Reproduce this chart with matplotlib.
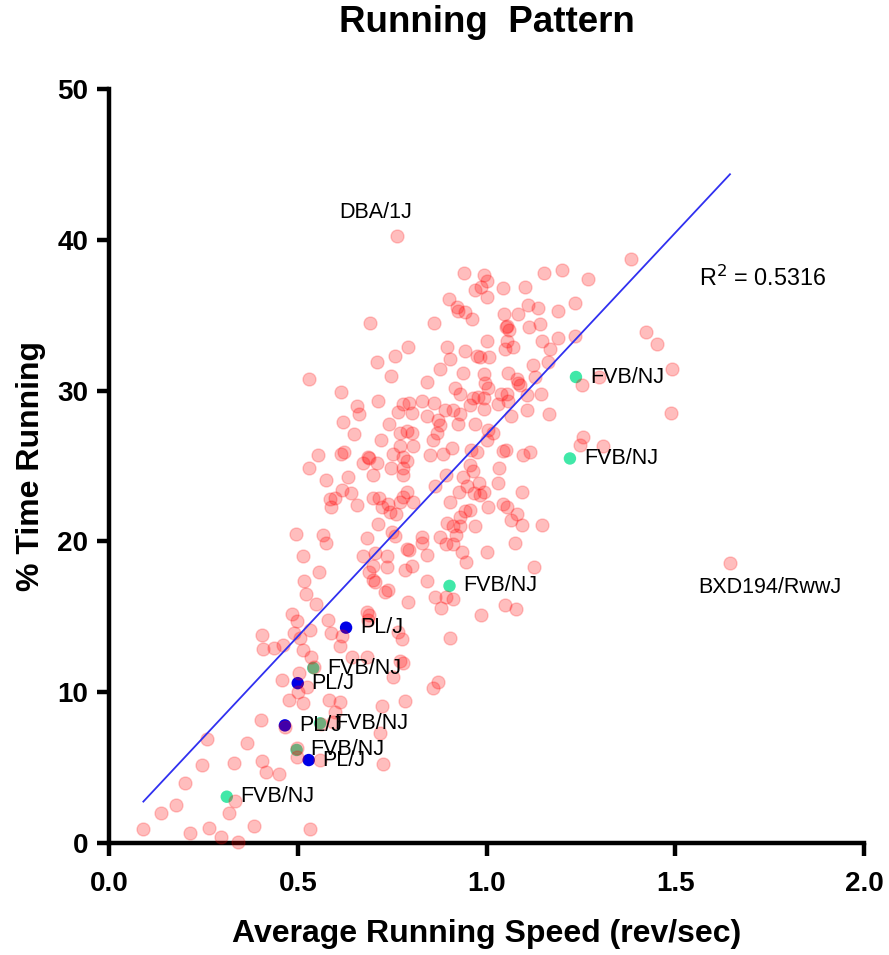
import matplotlib
matplotlib.use("Agg")
import matplotlib.pyplot as plt
import numpy as np

plt.rcParams['font.family'] = ['Liberation Sans', 'DejaVu Sans']

# ---- data ----
speed_all = [0.091, 0.138, 0.177, 0.201, 0.215, 0.247, 0.259, 0.265, 0.298, 0.317, 0.335, 0.343, 0.332, 0.365, 0.385,
             0.402, 0.406, 0.415, 0.450, 0.404, 0.409, 0.437, 0.462, 0.457, 0.466, 0.478, 0.486, 0.497, 0.491, 0.506,
             0.517, 0.522, 0.515, 0.532, 0.534, 0.544, 0.504, 0.501, 0.514, 0.524, 0.497, 0.499, 0.559, 0.532, 0.557,
             0.581, 0.588, 0.612, 0.618, 0.584, 0.612, 0.599, 0.562, 0.594, 0.643, 0.683, 0.722, 0.718, 0.725, 0.683,
             0.689, 0.700, 0.731, 0.736, 0.753, 0.549, 0.495, 0.566, 0.575, 0.515, 0.683, 0.713, 0.749, 0.758, 0.789,
             0.796, 0.830, 0.842, 0.736, 0.705, 0.674, 0.700, 0.784, 0.802, 0.705, 0.740, 0.793, 0.842, 0.687, 0.766,
             0.771, 0.688, 0.531, 0.615, 0.656, 0.662, 0.712, 0.619, 0.649, 0.742, 0.720, 0.766, 0.780, 0.795, 0.802,
             0.771, 0.789, 0.802, 0.771, 0.804, 0.554, 0.615, 0.622, 0.531, 0.575, 0.634, 0.672, 0.690, 0.709, 0.700,
             0.751, 0.780, 0.790, 0.747, 0.778, 0.780, 0.616, 0.641, 0.599, 0.585, 0.587, 0.658, 0.700, 0.716, 0.740,
             0.744, 0.722, 0.771, 0.790, 0.778, 0.806, 0.685, 0.760, 0.842, 0.917, 0.930, 0.996, 1.003, 0.965, 0.978,
             0.993, 1.038, 1.053, 1.031, 1.058, 1.084, 1.108, 1.144, 1.106, 1.166, 0.828, 0.861, 0.890, 0.912, 0.930,
             0.956, 0.993, 0.843, 0.872, 0.877, 0.925, 0.970, 1.064, 0.868, 0.857, 1.005, 1.018, 1.000, 0.850, 0.884,
             0.908, 0.958, 0.974, 1.045, 1.052, 1.098, 1.115, 0.956, 0.965, 1.034, 0.894, 0.939, 0.948, 0.981, 1.031,
             0.864, 0.928, 0.967, 0.983, 0.993, 1.093, 0.903, 0.956, 0.944, 1.003, 1.043, 1.053, 1.080, 1.066, 0.930,
             0.896, 0.910, 0.930, 0.970, 1.093, 1.146, 0.828, 0.877, 0.894, 0.912, 0.934, 0.947, 1.000, 1.076, 1.127,
             0.864, 0.894, 0.912, 0.879, 0.985, 1.049, 1.077, 0.903, 0.775, 0.780, 0.872, 0.857, 0.784, 0.919, 0.941,
             0.994, 1.000, 0.970, 0.985, 1.000, 1.043, 1.102, 1.152, 1.201, 0.901, 0.921, 0.925, 0.943, 0.961, 0.862,
             1.047, 1.083, 1.109, 1.137, 1.189, 1.055, 1.059, 1.052, 1.113, 1.142, 0.793, 0.896, 0.903, 0.943, 0.974,
             0.983, 1.007, 1.000, 1.053, 1.049, 1.071, 1.146, 1.168, 1.190, 1.164, 1.124, 0.877, 0.939, 0.994, 1.058,
             1.080, 1.128, 1.089, 1.384, 1.268, 1.234, 1.422, 1.451, 1.234, 1.492, 1.490, 1.254, 1.297, 1.255, 1.248,
             1.308, 1.645, 0.764, 0.691, 0.758, 0.709, 0.746]
time_all = [0.91, 2.0, 2.5, 4.0, 0.64, 5.2, 6.9, 1.0, 0.38, 1.97, 2.8, 0.09, 5.3, 6.6, 1.15,
            8.16, 5.46, 4.73, 4.6, 13.8, 12.85, 12.95, 13.1, 10.8, 7.7, 9.5, 15.2, 14.7, 13.95, 13.6,
            17.4, 16.5, 12.8, 14.1, 12.35, 11.7, 11.25, 10.0, 9.26, 10.36, 6.28, 5.72, 5.5, 0.91, 18.0,
            14.8, 13.95, 13.06, 13.7, 9.5, 9.37, 8.7, 7.9, 8.04, 12.35, 12.35, 9.08, 7.27, 5.24, 15.34,
            17.95, 17.44, 16.67, 18.3, 11.0, 15.85, 20.5, 20.4, 19.9, 19.05, 20.2, 21.15, 20.6, 20.35, 19.5,
            19.4, 19.9, 19.1, 19.0, 19.25, 19.0, 18.4, 18.1, 18.4, 17.3, 16.8, 16.0, 17.4, 14.8, 14.0,
            12.1, 15.1, 30.8, 29.9, 29.0, 28.45, 29.3, 27.9, 27.1, 27.8, 26.7, 28.6, 29.1, 29.15, 28.5,
            27.2, 27.3, 27.2, 26.3, 26.3, 25.7, 25.8, 25.9, 24.85, 24.1, 24.3, 25.2, 25.5, 25.2, 24.4,
            25.8, 25.6, 25.35, 24.85, 24.85, 24.4, 23.4, 23.2, 22.9, 22.8, 22.3, 22.4, 22.85, 22.85, 22.5,
            21.97, 22.3, 22.6, 23.3, 22.96, 22.6, 25.6, 21.8, 30.6, 30.15, 29.8, 30.5, 30.2, 29.5, 29.55,
            29.5, 29.8, 29.8, 29.1, 29.3, 30.5, 29.7, 29.8, 28.7, 28.45, 29.3, 29.15, 28.7, 28.7, 28.45,
            29.05, 28.75, 28.3, 28.05, 27.7, 27.8, 27.8, 28.3, 27.2, 26.7, 27.4, 27.2, 26.75, 25.7, 25.8,
            26.2, 26.05, 25.9, 26.0, 26.05, 25.7, 25.95, 25.05, 24.7, 24.85, 24.4, 24.25, 23.7, 23.9, 23.9,
            23.7, 23.3, 23.2, 23.1, 23.3, 23.3, 22.6, 22.1, 22.0, 22.25, 22.5, 22.25, 21.85, 21.4, 21.6,
            21.2, 21.0, 21.0, 21.0, 21.1, 21.1, 20.3, 20.3, 19.8, 19.8, 19.3, 18.65, 19.3, 19.9, 18.3,
            16.3, 16.3, 16.2, 15.6, 15.15, 15.8, 15.5, 13.6, 13.5, 11.95, 10.7, 10.25, 9.4, 20.4, 37.8,
            37.65, 37.3, 36.7, 36.85, 36.2, 36.8, 36.9, 37.8, 38.0, 36.1, 35.55, 35.3, 35.2, 34.75, 34.5,
            35.1, 35.1, 35.7, 35.45, 35.3, 34.3, 34.05, 34.2, 34.2, 34.4, 32.9, 32.9, 32.1, 32.6, 32.3,
            32.25, 32.2, 33.3, 33.3, 32.75, 32.9, 33.3, 32.75, 33.5, 31.9, 31.7, 31.4, 31.2, 31.1, 31.2,
            30.8, 30.9, 30.35, 38.7, 37.4, 35.8, 33.9, 33.1, 33.6, 31.4, 28.5, 30.4, 30.9, 26.9, 26.4,
            26.3, 18.57, 40.27, 34.5, 32.3, 31.9, 31.0]

fvb_speed = [0.312, 0.497, 0.559, 0.541, 0.902, 1.221, 1.237]
fvb_time = [3.07, 6.17, 7.94, 11.6, 17.05, 25.5, 30.9]
plj_speed = [0.628, 0.500, 0.466, 0.529]
plj_time = [14.28, 10.6, 7.8, 5.5]

fit_slope = 26.77
fit_intercept = 0.31
r_squared = 0.5316

outliers = [("DBA/1J", 0.764, 40.27, (-42, 16.5)), ("BXD194/RwwJ", 1.645, 18.57, (-23, -18))]

x_ticks = [0.0, 0.5, 1.0, 1.5, 2.0]
y_ticks = [0, 10, 20, 30, 40, 50]

# ---- figure ----
fig = plt.figure(figsize=(8.89, 9.55), dpi=100)
ax = fig.add_axes([109 / 889, 112 / 955, 755 / 889, 754 / 955])

ax.scatter(speed_all, time_all, s=88, color=(1, 0, 0, 0.26), edgecolors=(1, 0, 0, 0.2),
           linewidths=1.0, zorder=3, clip_on=False)
ax.scatter(fvb_speed, fvb_time, s=80, color='#40E8A8', edgecolors='none', zorder=2, clip_on=False)
ax.scatter(plj_speed, plj_time, s=80, color='#0000E6', edgecolors='none', zorder=2, clip_on=False)

xs = np.array([min(speed_all), max(speed_all)])
ax.plot(xs, fit_slope * xs + fit_intercept, color='#3030F0', lw=1.3, zorder=4)

for x, y in zip(fvb_speed, fvb_time):
    ax.annotate("FVB/NJ", (x, y), xytext=(10, 0), textcoords='offset points',
                va='center', ha='left', fontsize=15.5, zorder=5)
for x, y in zip(plj_speed, plj_time):
    ax.annotate("PL/J", (x, y), xytext=(10, 0), textcoords='offset points',
                va='center', ha='left', fontsize=15.5, zorder=5)
for name, x, y, off in outliers:
    ax.annotate(name, (x, y), xytext=off, textcoords='offset points',
                va='center', ha='left', fontsize=15.5, zorder=5)

ax.text(1.563, 37.47, "R$^2$ = %.4f" % r_squared, fontsize=16.8, ha='left', va='center')

ax.set_xlim(0, 2.0)
ax.set_ylim(0, 50)
ax.set_xticks(x_ticks)
ax.set_xticklabels(["%.1f" % t for t in x_ticks])
ax.set_yticks(y_ticks)
ax.spines['top'].set_visible(False)
ax.spines['right'].set_visible(False)
for sp in ('left', 'bottom'):
    ax.spines[sp].set_linewidth(3.2)
ax.tick_params(axis='both', which='major', direction='out', length=9, width=3.2, labelsize=20)
ax.tick_params(axis='x', pad=11)
ax.tick_params(axis='y', pad=6)
for lab in ax.get_xticklabels() + ax.get_yticklabels():
    lab.set_fontweight('bold')

ax.set_xlabel("Average Running Speed (rev/sec)", fontsize=23, fontweight='bold', labelpad=16)
ax.set_ylabel("% Time Running", fontsize=23, fontweight='bold', labelpad=8)
fig.text(0.5 * (109 + 864) / 889, 1 - 22 / 955, "Running  Pattern", fontsize=26.5,
         fontweight='bold', ha='center', va='center')

fig.savefig("out.png", dpi=100)
